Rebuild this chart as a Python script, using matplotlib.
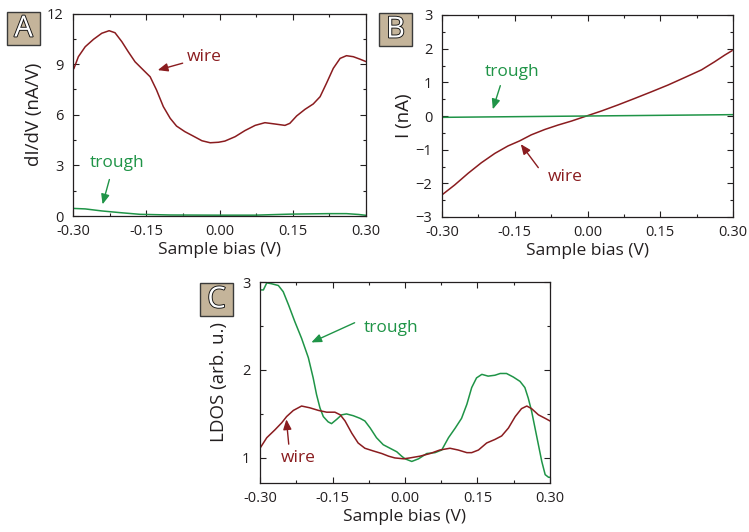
"""
Three-panel STS figure: (A) dI/dV, (B) I-V, (C) normalised LDOS for wire vs trough.
"""
import matplotlib
matplotlib.use("Agg")
import matplotlib.pyplot as plt
import matplotlib.patheffects as pe
from matplotlib.patches import Rectangle
from matplotlib.ticker import MultipleLocator

plt.rcParams["font.family"] = ["Open Sans", "DejaVu Sans"]

WIRE, TROUGH, INK, TAN = "#8a1c1f", "#1f9447", "#231f20", "#c4b49a"

# ---- panel A: dI/dV (nA/V)
a_wire_v = [-0.298, -0.289, -0.275, -0.258, -0.241, -0.226, -0.214, -0.200, -0.187, -0.173,
            -0.156, -0.142, -0.129, -0.115, -0.101, -0.088, -0.071, -0.054, -0.036, -0.019,
            -0.002, 0.011, 0.032, 0.052, 0.073, 0.093, 0.114, 0.134, 0.144, 0.158,
            0.175, 0.192, 0.206, 0.219, 0.233, 0.247, 0.260, 0.274, 0.288, 0.300]
a_wire = [8.75, 9.44, 10.03, 10.47, 10.83, 10.98, 10.86, 10.33, 9.74, 9.14,
          8.65, 8.25, 7.47, 6.48, 5.79, 5.33, 5.00, 4.74, 4.46, 4.34,
          4.37, 4.44, 4.70, 5.06, 5.37, 5.53, 5.45, 5.37, 5.49, 5.93,
          6.32, 6.64, 7.07, 7.86, 8.75, 9.34, 9.50, 9.44, 9.29, 9.15]
a_trough_v = [-0.300, -0.275, -0.241, -0.204, -0.163, -0.101, -0.002, 0.073, 0.144, 0.223, 0.260, 0.285, 0.300]
a_trough = [0.45, 0.42, 0.30, 0.20, 0.10, 0.06, 0.05, 0.05, 0.11, 0.14, 0.14, 0.09, 0.04]

# ---- panel B: I (nA)
b_wire_v = [-0.298, -0.274, -0.246, -0.219, -0.191, -0.164, -0.140, -0.116, -0.088, -0.061,
            -0.033, -0.002, 0.029, 0.063, 0.097, 0.132, 0.166, 0.200, 0.235, 0.262,
            0.283, 0.298]
b_wire = [-2.32, -2.05, -1.70, -1.39, -1.11, -0.89, -0.74, -0.56, -0.40, -0.27,
          -0.15, 0.00, 0.15, 0.33, 0.52, 0.72, 0.92, 1.14, 1.37, 1.61,
          1.81, 1.94]
b_trough_v = [-0.30, 0.00, 0.30]
b_trough = [-0.04, 0.00, 0.04]

# ---- panel C: LDOS (arb. u.)
c_trough_v = [-0.300, -0.293, -0.286, -0.276, -0.262, -0.252, -0.241, -0.228, -0.214, -0.200,
              -0.190, -0.183, -0.176, -0.169, -0.159, -0.152, -0.141, -0.131, -0.121, -0.107,
              -0.093, -0.083, -0.072, -0.059, -0.045, -0.031, -0.017, -0.007, 0.000, 0.014,
              0.028, 0.045, 0.062, 0.076, 0.090, 0.104, 0.117, 0.128, 0.138, 0.148,
              0.159, 0.172, 0.186, 0.197, 0.210, 0.224, 0.238, 0.248, 0.255, 0.262,
              0.269, 0.276, 0.283, 0.290, 0.297, 0.300]
c_trough = [2.91, 2.91, 2.99, 2.98, 2.96, 2.89, 2.74, 2.55, 2.36, 2.14,
            1.91, 1.72, 1.57, 1.47, 1.41, 1.39, 1.44, 1.49, 1.50, 1.48,
            1.45, 1.42, 1.34, 1.23, 1.15, 1.11, 1.07, 1.02, 0.99, 0.96,
            0.99, 1.05, 1.06, 1.09, 1.23, 1.34, 1.45, 1.61, 1.80, 1.91,
            1.95, 1.93, 1.94, 1.96, 1.96, 1.92, 1.87, 1.80, 1.68, 1.53,
            1.34, 1.15, 0.96, 0.81, 0.78, 0.78]
c_wire_v = [-0.300, -0.286, -0.269, -0.255, -0.245, -0.231, -0.214, -0.197, -0.179, -0.162,
            -0.145, -0.134, -0.124, -0.110, -0.097, -0.083, -0.066, -0.048, -0.034, -0.021,
            -0.003, 0.010, 0.031, 0.052, 0.072, 0.093, 0.110, 0.128, 0.138, 0.152,
            0.169, 0.186, 0.200, 0.214, 0.228, 0.241, 0.252, 0.262, 0.276, 0.290, 0.300]
c_wire = [1.11, 1.23, 1.32, 1.40, 1.47, 1.54, 1.59, 1.57, 1.54, 1.52,
          1.52, 1.49, 1.42, 1.28, 1.17, 1.11, 1.08, 1.05, 1.02, 1.00,
          0.99, 1.00, 1.02, 1.05, 1.09, 1.11, 1.09, 1.06, 1.06, 1.09,
          1.17, 1.21, 1.25, 1.34, 1.47, 1.56, 1.59, 1.56, 1.49, 1.45, 1.42]

W, H = 749, 532


def frame(ax, ylim, ymaj, ymin, ylabel, label_x):
    ax.set_xlim(-0.30, 0.30)
    ax.set_ylim(*ylim)
    ax.xaxis.set_major_locator(MultipleLocator(0.15))
    ax.xaxis.set_minor_locator(MultipleLocator(0.075))
    ax.yaxis.set_major_locator(MultipleLocator(ymaj))
    ax.yaxis.set_minor_locator(MultipleLocator(ymin))
    ax.xaxis.set_major_formatter(lambda v, p: f"{v:.2f}".replace("-0.00", "0.00"))
    ax.tick_params(which="both", direction="in", top=True, right=True, colors=INK,
                   labelsize=10.5, width=0.8)
    ax.tick_params(which="major", length=4)
    ax.tick_params(which="minor", length=2.5)
    ax.tick_params(axis="x", which="major", pad=6)
    ax.tick_params(axis="y", which="major", pad=7)
    for s in ax.spines.values():
        s.set_color(INK); s.set_linewidth(0.9)
    ax.set_xlabel("Sample bias (V)", fontsize=12.5, color=INK, labelpad=2)
    ax.set_ylabel(ylabel, fontsize=13.5, color=INK)
    ax.yaxis.set_label_coords(label_x, 0.5)  # right edge of the rotated label


def tag(fig, x0, y0, letter):
    """tan letter box, given by its top-left corner in pixels"""
    fig.add_artist(Rectangle((x0 / W, 1 - (y0 + 33) / H), 33 / W, 33 / H, transform=fig.transFigure,
                             facecolor=TAN, edgecolor="#3a3a3a", lw=1.0))
    t = fig.text((x0 + 16.5) / W, 1 - (y0 + 17) / H, letter, ha="center", va="center",
                 fontsize=21, color="white")
    t.set_path_effects([pe.withStroke(linewidth=1.3, foreground="#111111")])


def note(ax, text, color, xy, xytext, tail):
    ax.annotate("", xy=xy, xytext=tail,
                arrowprops=dict(arrowstyle="-|>,head_length=0.6,head_width=0.25", color=color, lw=1))
    ax.text(*xytext, text, color=color, fontsize=12.5, ha="center", va="center")


fig = plt.figure(figsize=(W / 100, H / 100), dpi=100)
axA = fig.add_axes([73 / W, 1 - 216 / H, 293 / W, 202.5 / H])
axB = fig.add_axes([442 / W, 1 - 217 / H, 291 / W, 202 / H])
axC = fig.add_axes([260 / W, 1 - 483 / H, 290 / W, 201 / H])

axA.plot(a_wire_v, a_wire, color=WIRE, lw=1.1)
axA.plot(a_trough_v, a_trough, color=TROUGH, lw=1.1)
frame(axA, (0, 12), 3, 1.5, "dI/dV (nA/V)", -0.102)
note(axA, "wire", WIRE, (-0.132, 8.6), (-0.032, 9.4), (-0.07, 9.1))
note(axA, "trough", TROUGH, (-0.241, 0.53), (-0.21, 3.15), (-0.224, 2.32))

axB.plot(b_wire_v, b_wire, color=WIRE, lw=1.1)
axB.plot(b_trough_v, b_trough, color=TROUGH, lw=1.1)
frame(axB, (-3, 3), 1, 0.5, "I (nA)", -0.100)
note(axB, "trough", TROUGH, (-0.197, 0.12), (-0.156, 1.31), (-0.178, 0.98))
note(axB, "wire", WIRE, (-0.141, -0.77), (-0.046, -1.81), (-0.098, -1.60))

axC.plot(c_trough_v, c_trough, color=TROUGH, lw=1.1)
axC.plot(c_wire_v, c_wire, color=WIRE, lw=1.1)
frame(axC, (0.715, 3.0), 1, 0.5, "LDOS (arb. u.)", -0.110)
note(axC, "trough", TROUGH, (-0.199, 2.30), (-0.029, 2.48), (-0.099, 2.55))
note(axC, "wire", WIRE, (-0.246, 1.47), (-0.221, 1.0), (-0.24, 1.125))

tag(fig, 7, 12, "A")
tag(fig, 379, 13, "B")
tag(fig, 200, 283, "C")

fig.savefig("out.png", dpi=100)
